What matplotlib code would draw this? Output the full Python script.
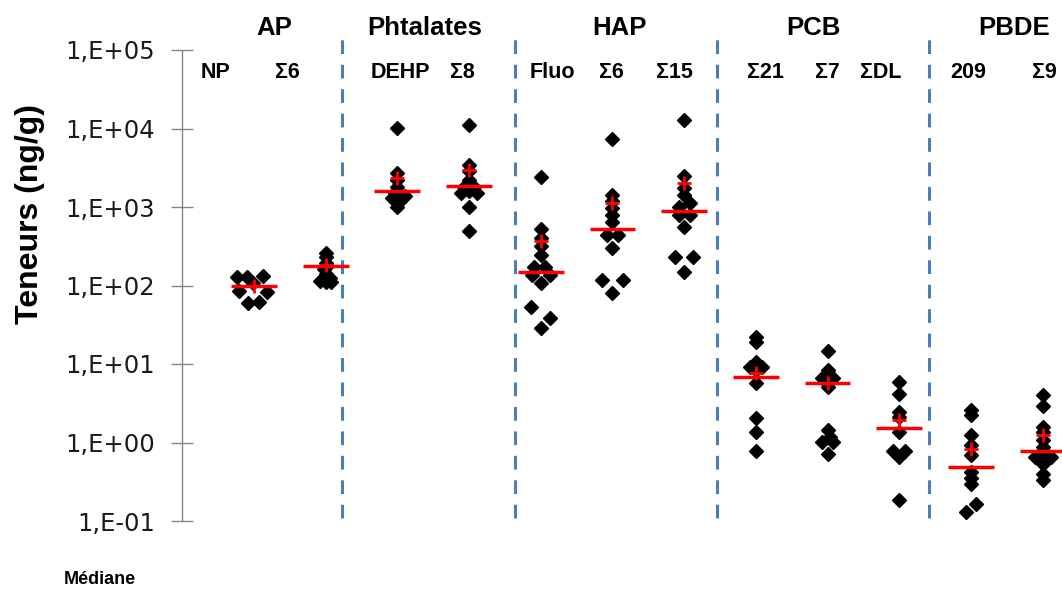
import numpy as np
import matplotlib
matplotlib.use("Agg")
import matplotlib.pyplot as plt

# categories (one column of points each), grouped by family
categories = ["NP", "Σ6", "DEHP", "Σ8", "Fluo", "Σ6", "Σ15", "Σ21", "Σ7", "ΣDL", "209", "Σ9"]
groups = ["AP", "Phtalates", "HAP", "PCB", "PBDE"]

# concentrations (ng/g), with the small horizontal jitter of each point
np_y = [130, 127, 132, 108, 84, 82, 60, 61]
np_dx = [-0.24, -0.10, 0.12, -0.01, -0.21, 0.18, -0.08, 0.07]
ap6_y = [260, 230, 195, 175, 160, 140, 125, 115, 110, 110]
ap6_dx = [0, 0, 0, 0.02, -0.02, 0, 0.06, -0.08, 0.08, 0]
dehp_y = [10200, 2700, 2200, 1800, 1500, 1400, 1300, 1200, 1000]
dehp_dx = [0, 0, 0, 0, -0.04, 0.10, -0.07, 0.04, 0]
ph8_y = [11100, 3400, 2850, 2200, 1800, 1800, 1600, 1500, 1500, 1000, 495]
ph8_dx = [0, 0, 0, 0, -0.07, 0.07, 0, -0.11, 0.11, 0, 0]
fluo_y = [2430, 520, 400, 318, 245, 174, 174, 136, 136, 107, 54, 38, 28.5]
fluo_dx = [0, 0, 0, 0, 0, -0.10, 0.06, -0.12, 0.13, 0, -0.14, 0.13, 0]
hap6_y = [7280, 1420, 1200, 960, 790, 650, 440, 440, 298, 117, 117, 80]
hap6_dx = [0, 0, 0, 0, 0, 0, -0.08, 0.08, 0, -0.14, 0.14, 0]
hap15_y = [12800, 2480, 1730, 1420, 1115, 990, 790, 790, 552, 233, 233, 150]
hap15_dx = [0, 0, 0, 0, 0.08, -0.07, -0.07, 0.08, 0, -0.13, 0.13, 0]
pcb21_y = [22.3, 19.2, 10.7, 9.2, 9.2, 8.4, 5.7, 2.03, 1.37, 0.79]
pcb21_dx = [0, 0, 0, -0.08, 0.08, 0, 0, 0, 0, 0]
pcb7_y = [14.8, 8.4, 7.2, 6.6, 6.6, 5.1, 1.44, 1.19, 1.02, 1.02, 0.71]
pcb7_dx = [0, 0, 0, -0.08, 0.08, 0, 0, 0.03, -0.08, 0.08, 0]
pcbdl_y = [5.95, 4.15, 2.47, 2.14, 1.37, 0.77, 0.77, 0.66, 0.185]
pcbdl_dx = [0, 0, 0, 0, 0, -0.09, 0.08, 0, 0]
bde209_y = [2.6, 2.24, 1.25, 0.93, 0.69, 0.42, 0.35, 0.30, 0.165, 0.13]
bde209_dx = [0, 0, 0, 0, 0, 0, 0, 0, 0.07, -0.07]
bde9_y = [4.03, 2.92, 1.59, 1.37, 1.08, 0.885, 0.78, 0.66, 0.66, 0.54, 0.40, 0.33]
bde9_dx = [0, 0, 0, 0, 0, 0, 0, -0.11, 0.12, 0, 0, 0]

values = [np_y, ap6_y, dehp_y, ph8_y, fluo_y, hap6_y, hap15_y, pcb21_y, pcb7_y, pcbdl_y, bde209_y, bde9_y]
jitter = [np_dx, ap6_dx, dehp_dx, ph8_dx, fluo_dx, hap6_dx, hap15_dx, pcb21_dx, pcb7_dx, pcbdl_dx, bde209_dx, bde9_dx]

medians = [100, 177, 1600, 1850, 150, 520, 890, 6.9, 5.8, 1.53, 0.49, 0.78]
means = [100, 182, 2340, 2950, 372, 1135, 2040, 7.6, 5.7, 1.94, 0.82, 1.25]

ytick_vals = [1e-1, 1e0, 1e1, 1e2, 1e3, 1e4, 1e5]
ytick_labels = ["1,E-01", "1,E+00", "1,E+01", "1,E+02", "1,E+03", "1,E+04", "1,E+05"]

# label / separator positions in category units
group_x = [0.28, 2.38, 5.10, 7.80, 10.6]
cat_label_x = [-0.53, 0.46, 2.04, 2.90, 4.16, 4.99, 5.86, 7.14, 8.00, 8.74, 9.96, 11.02]
sep_x = [1.23, 3.64, 6.46, 9.42]

fig = plt.figure(figsize=(10.62, 5.89), dpi=100)
ax = fig.add_axes([182 / 1062, 68 / 589, 880 / 1062, 471 / 589])

for i, (ys, dx) in enumerate(zip(values, jitter)):
    xs = i + np.array(dx)
    ax.plot(xs, ys, "D", color="black", ms=7, mec="black", zorder=3)

pos = np.arange(len(categories))
ax.hlines(medians, pos - 0.32, pos + 0.32, colors="#ff0000", lw=2.5, zorder=4)
ax.plot(pos, means, "+", color="#ff0000", ms=10, mew=2, zorder=5)

for x in sep_x:
    ax.axvline(x, ymin=0.006, ymax=1.038, color="#4a7ebb", lw=2.2,
               linestyle=(0, (4.5, 3.5)), clip_on=False, zorder=1)

for x, g in zip(group_x, groups):
    ax.text(x, 1.047, g, transform=ax.get_xaxis_transform(), ha="center", va="center",
            fontsize=18.5, fontweight="bold", family="Liberation Sans")
for x, c in zip(cat_label_x, categories):
    ax.text(x, 0.953, c, transform=ax.get_xaxis_transform(), ha="center", va="center",
            fontsize=15.5, fontweight="bold", family="Liberation Sans")

ax.set_yscale("log")
ax.set_ylim(1e-1, 1e5)
ax.set_xlim(-1.004, 11.27)
ax.set_yticks(ytick_vals)
ax.set_yticklabels(ytick_labels, fontsize=17.5, color="#1a1a1a")
ax.yaxis.set_minor_locator(matplotlib.ticker.NullLocator())
ax.set_xticks([])
ax.tick_params(axis="y", direction="inout", length=16.5, width=1, color="#868686", pad=11)
for s in ["top", "right", "bottom"]:
    ax.spines[s].set_visible(False)
ax.spines["left"].set_color("#868686")
ax.spines["left"].set_linewidth(1)

fig.text(30 / 1062, 1 - 214 / 589, "Teneurs (ng/g)", rotation=90, ha="center", va="center",
         fontsize=23, fontweight="bold", family="Liberation Sans")
fig.text(100 / 1062, 1 - 571 / 589, "Médiane", ha="center", va="top",
         fontsize=13, fontweight="bold", family="Liberation Sans")

fig.savefig("out.png", dpi=100)
